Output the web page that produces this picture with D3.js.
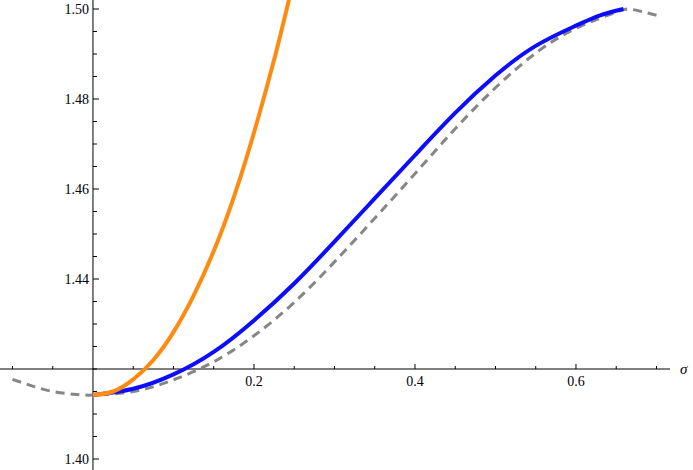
<!DOCTYPE html>
<html>
<head>
<meta charset="utf-8">
<script src="https://cdn.jsdelivr.net/npm/d3@7"></script>
<style>
  body { margin: 0; background: #fff; }
  svg { display: block; }
  text { font-family: "Liberation Serif", "DejaVu Serif", serif; font-size: 14px; fill: #000; }
</style>
</head>
<body>
<svg id="plot"></svg>
<script>
const width = 693;
const height = 470;

// values (sigma, value)
const sigmaGray = [-0.1, -0.075, -0.05, -0.025, 0, 0.05, 0.1, 0.15, 0.2, 0.25, 0.3, 0.35, 0.4, 0.45, 0.5, 0.55, 0.6, 0.65, 0.67, 0.7];
const valueGray = [1.4177, 1.4162, 1.4150, 1.4144, 1.4142, 1.4150, 1.4176, 1.4216, 1.4274, 1.4348, 1.4438, 1.4535, 1.4634, 1.4734, 1.4825, 1.4902, 1.4957, 1.4993, 1.4999, 1.4986];

const sigmaBlue = [0, 0.05, 0.1, 0.15, 0.2, 0.25, 0.3, 0.35, 0.4, 0.45, 0.5, 0.55, 0.6, 0.63, 0.659];
const valueBlue = [1.4142, 1.4156, 1.4188, 1.4238, 1.4308, 1.4390, 1.4483, 1.4579, 1.4675, 1.4769, 1.4852, 1.4918, 1.4963, 1.4986, 1.5000];

const sigmaOrange = [0, 0.025, 0.05, 0.075, 0.1, 0.125, 0.15, 0.175, 0.2, 0.225, 0.245];
const valueOrange = [1.4142, 1.4150, 1.4177, 1.4220, 1.4282, 1.4363, 1.4462, 1.4582, 1.4725, 1.4887, 1.5032];

const xMajor = [0.2, 0.4, 0.6];
const xMinor = [-0.1, -0.05, 0.05, 0.1, 0.15, 0.25, 0.3, 0.35, 0.45, 0.5, 0.55, 0.65, 0.7];
const yMajor = [1.40, 1.44, 1.46, 1.48, 1.50];
const yMinor = [1.405, 1.41, 1.415, 1.42, 1.425, 1.43, 1.435, 1.445, 1.45, 1.455, 1.465, 1.47, 1.475, 1.485, 1.49, 1.495];
const xLabel = "σ";

let svg, sx, sy;

function main(){
  svg = d3.select('svg#plot')
  .attr('width', width)
  .attr('height', height);

  sx = d3.scaleLinear()
  .domain([-0.1155, 0.7168])
  .range([0, 670]);

  sy = d3.scaleLinear()
  .domain([1.40, 1.50])
  .range([459, 9]);

  drawAxes();
  drawCurve(sigmaGray, valueGray, '#868686', 3, '9,6');
  drawCurve(sigmaBlue, valueBlue, '#0c0cff', 4, null);
  drawCurve(sigmaOrange, valueOrange, '#ff8a10', 4, null);
}

function drawAxes(){
  let x0 = sx(0);
  let y0 = sy(1.42);

  let g = svg.append('g').attr('class', 'axes');

  g.append('line')
  .attr('x1', x0).attr('x2', x0)
  .attr('y1', 0).attr('y2', height)
  .attr('stroke', '#000').attr('stroke-width', 1);

  g.append('line')
  .attr('x1', 0).attr('x2', sx(0.7168))
  .attr('y1', y0).attr('y2', y0)
  .attr('stroke', '#000').attr('stroke-width', 1);

  // x ticks point up
  g.selectAll('.xmaj')
  .data(xMajor)
  .enter()
  .append('line')
  .attr('x1', d=>sx(d)).attr('x2', d=>sx(d))
  .attr('y1', y0).attr('y2', y0-5)
  .attr('stroke', '#000');

  g.selectAll('.xmin')
  .data(xMinor)
  .enter()
  .append('line')
  .attr('x1', d=>sx(d)).attr('x2', d=>sx(d))
  .attr('y1', y0).attr('y2', y0-3)
  .attr('stroke', '#000');

  g.selectAll('.xlab')
  .data(xMajor)
  .enter()
  .append('text')
  .attr('x', d=>sx(d))
  .attr('y', y0+17)
  .attr('text-anchor', 'middle')
  .text(d=>d3.format('.1f')(d));

  g.append('text')
  .attr('x', 680)
  .attr('y', y0+5)
  .style('font-style', 'italic')
  .style('font-size', '15px')
  .text(xLabel);

  // y ticks point right
  g.selectAll('.ymaj')
  .data(yMajor)
  .enter()
  .append('line')
  .attr('x1', x0).attr('x2', x0+6)
  .attr('y1', d=>sy(d)).attr('y2', d=>sy(d))
  .attr('stroke', '#000');

  g.selectAll('.ymin')
  .data(yMinor)
  .enter()
  .append('line')
  .attr('x1', x0).attr('x2', x0+4)
  .attr('y1', d=>sy(d)).attr('y2', d=>sy(d))
  .attr('stroke', '#000');

  g.selectAll('.ylab')
  .data(yMajor)
  .enter()
  .append('text')
  .attr('x', x0-4)
  .attr('y', d=>sy(d)+5)
  .attr('text-anchor', 'end')
  .text(d=>d3.format('.2f')(d));
}

function drawCurve(xs, ys, color, w, dash){
  let line = d3.line()
  .x(d=>sx(d[0]))
  .y(d=>sy(d[1]))
  .curve(d3.curveNatural);

  let path = svg.append('path')
  .datum(xs.map((d,i)=>[d, ys[i]]))
  .attr('d', line)
  .attr('fill', 'none')
  .attr('stroke', color)
  .attr('stroke-width', w);

  if(dash){
    path.attr('stroke-dasharray', dash);
  }
}

document.addEventListener('DOMContentLoaded', main);
</script>
</body>
</html>
